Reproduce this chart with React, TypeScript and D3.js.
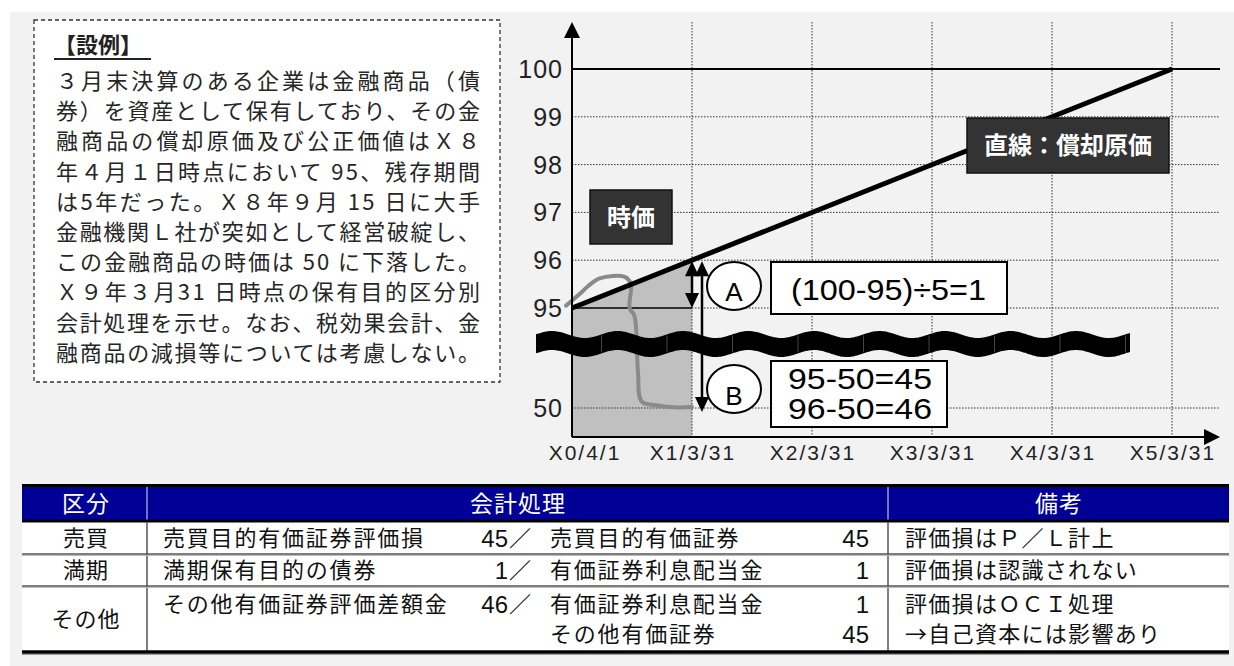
import React from 'react';
import * as d3 from 'd3';

// question text, one entry per printed line
const questionLines = [
    '３月末決算のある企業は金融商品（債',
    '券）を資産として保有しており、その金',
    '融商品の償却原価及び公正価値はＸ８',
    '年４月１日時点において 95、残存期間',
    'は5年だった。Ｘ８年９月 15 日に大手',
    '金融機関Ｌ社が突如として経営破綻し、',
    'この金融商品の時価は 50 に下落した。',
    'Ｘ９年３月31 日時点の保有目的区分別',
    '会計処理を示せ。なお、税効果会計、金',
    '融商品の減損等については考慮しない。',
];

const xTickLabels = ['X0/4/1', 'X1/3/31', 'X2/3/31', 'X3/3/31', 'X4/3/31', 'X5/3/31'];
const yearSteps = [0, 1, 2, 3, 4, 5];
const yTickValues = [100, 99, 98, 97, 96, 95, 50];
const yGridValues = [99, 98, 97, 96, 50];

// amortized cost (straight line)
const costT = [0, 5];
const costV = [95, 100];

// market value path (時価)
const marketT = [-0.05, 0.08, 0.13, 0.23, 0.44, 0.49, 0.48, 0.52, 0.55, 0.58, 0.7, 0.88, 1.0];
const marketV = [95.05, 95.33, 95.45, 95.62, 95.65, 95.5, 95.0, 91.5, 66, 53, 51.2, 50.2, 50.4];

const arrowA = [96, 95];
const arrowB = [96, 50];
const formulaA = ['(100-95)÷5=1'];
const formulaB = ['95-50=45', '96-50=46'];

// table
const headers = ['区分', '会計処理', '備考'];
const categories = ['売買', '満期', 'その他'];
const lineCategory = [0, 1, 2, 2];
const debitAccounts = ['売買目的有価証券評価損', '満期保有目的の債券', 'その他有価証券評価差額金', ''];
const debitAmounts = ['45', '1', '46', ''];
const creditAccounts = ['売買目的有価証券', '有価証券利息配当金', '有価証券利息配当金', 'その他有価証券'];
const creditAmounts = ['45', '1', '1', '45'];
const notes = ['評価損はＰ／Ｌ計上', '評価損は認識されない', '評価損はＯＣＩ処理', '→自己資本には影響あり'];

const JP = '"Noto Sans CJK JP", "Noto Sans", sans-serif';
const LAT = '"Liberation Sans", Arial, sans-serif';

const App: React.FC = () => {
    const x = d3.scaleLinear().domain([0, 5]).range([572, 1172]);
    // broken axis: 50..95 squeezed, 95..100 regular
    const y = d3.scaleLinear().domain([50, 95, 100]).range([408, 308, 69]);
    const axisY = 437;
    const axisX = x(0);
    const gridRight = 1220;
    const gridTop = 22;

    const costLine = d3.line<number>().x((d, i) => x(costT[i])).y(d => y(d));
    const marketLine = d3.line<number>().x((d, i) => x(marketT[i])).y(d => y(d)).curve(d3.curveCatmullRom.alpha(0.5));
    const shade = d3.area<number>().x(t => x(t)).y0(axisY).y1(t => y(95 + t * (costV[1] - costV[0]) / 5));

    // wavy break band
    const wavePeriod = 65.5;
    const waveStart = 536, waveEnd = 1131;
    const waveXs = d3.range(waveStart, waveEnd + 0.5, 1.5);
    const waveTop = (px: number) => 334.5 - 3.5 * Math.cos((2 * Math.PI * (px - 552)) / wavePeriod);
    const wave = d3.area<number>().x(d => d).y0(d => waveTop(d)).y1(d => waveTop(d) + 19);
    const waveJoints = d3.range(waveStart + wavePeriod, waveEnd - 5, wavePeriod);

    const head = (hx: number, tip: number, dir: number) =>
        `${hx},${tip} ${hx - 7},${tip - dir * 15} ${hx + 7},${tip - dir * 15}`;

    const ax = x(1);
    const bx = x(1) + 10;

    // table geometry
    const tLeft = 22, tRight = 1229;
    const col1 = 147, col2 = 888;
    const headTop = 484, headBottom = 521;
    const rowBottoms = [554, 586, 651];
    const lineBase = [546, 578, 612, 642];
    const catCenter = [538, 570, 619];

    return (
        <svg width={1234} height={666} style={{ position: 'absolute', left: 0, top: 0, display: 'block', background: '#fff' }}>
            <rect x={10} y={12} width={1224} height={654} fill="#f2f2f2" />

            {/* question box */}
            <rect x={34} y={20} width={466} height={362} fill="#fff" stroke="#333" strokeWidth={1.3} strokeDasharray="4,3" />
            <text x={54} y={53} fontFamily={JP} fontSize={22} fontWeight="bold" fill="#222">【設例】</text>
            <line x1={54} x2={151} y1={59} y2={59} stroke="#222" strokeWidth={2} />
            {questionLines.map((l, i) => (
                <text key={i} x={56} y={89 + i * 30.2} fontFamily={JP} fontSize={22} fill="#262626"
                    textLength={424} lengthAdjust="spacing">{l}</text>
            ))}

            {/* gray shaded area */}
            <path d={shade([0, 1]) || ''} fill="#c0c0c0" />

            {/* grid */}
            {yGridValues.map(v => (
                <line key={v} x1={axisX} x2={gridRight} y1={y(v)} y2={y(v)}
                    stroke="#333" strokeWidth={1} strokeDasharray="1.5,1.5" />
            ))}
            <line x1={x(1)} x2={gridRight} y1={y(95)} y2={y(95)} stroke="#333" strokeWidth={1} strokeDasharray="1.5,1.5" />
            <line x1={axisX} x2={x(1)} y1={y(95)} y2={y(95)} stroke="#000" strokeWidth={1.5} />
            {yearSteps.slice(1).map(t => (
                <line key={t} x1={x(t)} x2={x(t)} y1={gridTop} y2={axisY} stroke="#333" strokeWidth={1} strokeDasharray="1.5,1.5" />
            ))}
            <line x1={axisX} x2={gridRight} y1={y(100)} y2={y(100)} stroke="#000" strokeWidth={2} />

            {/* market value path */}
            <path d={marketLine(marketV) || ''} fill="none" stroke="#8a8a8a" strokeWidth={4} strokeLinejoin="round" strokeLinecap="round" />

            {/* amortized cost line */}
            <path d={costLine(costV) || ''} fill="none" stroke="#000" strokeWidth={5} />

            {/* axes */}
            <line x1={axisX} x2={axisX} y1={36} y2={axisY} stroke="#000" strokeWidth={2} />
            <polygon points={`${axisX},${gridTop} ${axisX - 8},${gridTop + 16} ${axisX + 8},${gridTop + 16}`} fill="#000" />
            <line x1={axisX} x2={1206} y1={axisY} y2={axisY} stroke="#000" strokeWidth={2} />
            <polygon points={`1220,${axisY} 1204,${axisY - 8} 1204,${axisY + 8}`} fill="#000" />

            {yTickValues.map(v => (
                <text key={v} x={563} y={y(v) + 9} textAnchor="end" fontFamily={LAT} fontSize={25} letterSpacing={1} fill="#222">{v}</text>
            ))}
            {xTickLabels.map((l, i) => (
                <text key={l} x={i === 0 ? 585 : x(yearSteps[i]) + 1} y={460} textAnchor="middle" fontFamily={LAT} fontSize={21}
                    letterSpacing={2} fill="#222">{l}</text>
            ))}

            {/* wavy break */}
            <path d={wave(waveXs) || ''} fill="#000" />
            {waveJoints.map(j => (
                <line key={j} x1={j} x2={j} y1={waveTop(j) + 1} y2={waveTop(j) + 18} stroke="#555" strokeWidth={0.8} />
            ))}

            {/* arrows */}
            <line x1={ax} x2={ax} y1={y(arrowA[0]) + 10} y2={y(arrowA[1]) - 10} stroke="#000" strokeWidth={2.5} />
            <polygon points={head(ax, y(arrowA[0]) + 1, -1)} fill="#000" />
            <polygon points={head(ax, y(arrowA[1]), 1)} fill="#000" />
            <line x1={bx} x2={bx} y1={y(arrowB[0]) + 10} y2={y(arrowB[1]) - 4} stroke="#000" strokeWidth={2.5} />
            <polygon points={head(bx, y(arrowB[0]) + 1, -1)} fill="#000" />
            <polygon points={head(bx, y(arrowB[1]) + 4, 1)} fill="#000" />

            {/* circles */}
            <ellipse cx={734} cy={286} rx={27} ry={24} fill="#fff" stroke="#000" strokeWidth={2} />
            <text x={734} y={301} textAnchor="middle" fontFamily={LAT} fontSize={26} fill="#000">A</text>
            <ellipse cx={734} cy={389} rx={27} ry={24} fill="#fff" stroke="#000" strokeWidth={2} />
            <text x={734} y={405} textAnchor="middle" fontFamily={LAT} fontSize={26} fill="#000">B</text>

            {/* formula boxes */}
            <rect x={771} y={262} width={236} height={52} fill="#fff" stroke="#000" strokeWidth={2} />
            {formulaA.map(f => (
                <text key={f} x={791} y={300} fontFamily={LAT} fontSize={30} fill="#000" textLength={195} lengthAdjust="spacingAndGlyphs">{f}</text>
            ))}
            <rect x={771} y={361} width={176} height={66} fill="#fff" stroke="#000" strokeWidth={2} />
            {formulaB.map((f, i) => (
                <text key={f} x={788} y={389 + i * 30} fontFamily={LAT} fontSize={30} fill="#000" textLength={144} lengthAdjust="spacingAndGlyphs">{f}</text>
            ))}

            {/* label boxes */}
            <rect x={590} y={190} width={82} height={54} fill="#333" stroke="#111" strokeWidth={1.5} />
            <text x={631} y={226} textAnchor="middle" fontFamily={JP} fontSize={24} fontWeight="bold" fill="#fff">時価</text>
            <rect x={967} y={118} width={202} height={55} fill="#333" stroke="#111" strokeWidth={1.5} />
            <text x={1068} y={154} textAnchor="middle" fontFamily={JP} fontSize={24} fontWeight="bold" fill="#fff">直線：償却原価</text>

            {/* table */}
            <rect x={tLeft} y={headBottom} width={tRight - tLeft} height={rowBottoms[2] - headBottom} fill="#fff" />
            <rect x={tLeft} y={headTop} width={tRight - tLeft} height={headBottom - headTop} fill="#000096" />
            <line x1={tLeft} x2={tRight} y1={headTop + 1.5} y2={headTop + 1.5} stroke="#000" strokeWidth={3} />
            <line x1={tLeft} x2={tRight} y1={headBottom} y2={headBottom} stroke="#000" strokeWidth={3} />
            {[col1, col2].map(c => (
                <g key={c}>
                    <line x1={c} x2={c} y1={headTop + 3} y2={headBottom - 1.5} stroke="#9a9ad0" strokeWidth={1.5} />
                    <line x1={c} x2={c} y1={headBottom + 1.5} y2={rowBottoms[2]} stroke="#555" strokeWidth={1.5} />
                </g>
            ))}
            {rowBottoms.slice(0, 2).map(r => (
                <g key={r}>
                    <line x1={tLeft} x2={tRight} y1={r} y2={r} stroke="#555" strokeWidth={1.6} />
                    <line x1={tLeft} x2={tRight} y1={r + 1.5} y2={r + 1.5} stroke="#bbb" strokeWidth={1} />
                </g>
            ))}
            <line x1={tLeft} x2={tRight} y1={rowBottoms[2] + 1} y2={rowBottoms[2] + 1} stroke="#000" strokeWidth={3.5} />
            <line x1={tLeft} x2={tRight} y1={rowBottoms[2] + 3.5} y2={rowBottoms[2] + 3.5} stroke="#999" strokeWidth={1} />

            {headers.map((h, i) => (
                <text key={h} x={[86, 518, 1059][i]} y={512} textAnchor="middle" fontFamily={JP} fontSize={23} fill="#fff"
                    letterSpacing={1}>{h}</text>
            ))}
            {categories.map((c, i) => (
                <text key={c} x={86} y={catCenter[i] + 8} textAnchor="middle" fontFamily={JP} fontSize={22} fill="#111"
                    letterSpacing={1}>{c}</text>
            ))}
            {lineCategory.map((c, i) => (
                <g key={i} fontFamily={JP} fontSize={22} fill="#111">
                    <text x={163} y={lineBase[i]} letterSpacing={1.8}>{debitAccounts[i]}</text>
                    {debitAmounts[i] && (
                        <>
                            <text x={508} y={lineBase[i] + 1} textAnchor="end" fontFamily={LAT} fontSize={24}>{debitAmounts[i]}</text>
                            <text x={509} y={lineBase[i]}>／</text>
                        </>
                    )}
                    <text x={550} y={lineBase[i]} letterSpacing={1.8}>{creditAccounts[i]}</text>
                    <text x={869} y={lineBase[i] + 1} textAnchor="end" fontFamily={LAT} fontSize={24}>{creditAmounts[i]}</text>
                    <text x={905} y={lineBase[i]} letterSpacing={1.3}>{notes[i]}</text>
                </g>
            ))}
        </svg>
    );
};

export default App;
